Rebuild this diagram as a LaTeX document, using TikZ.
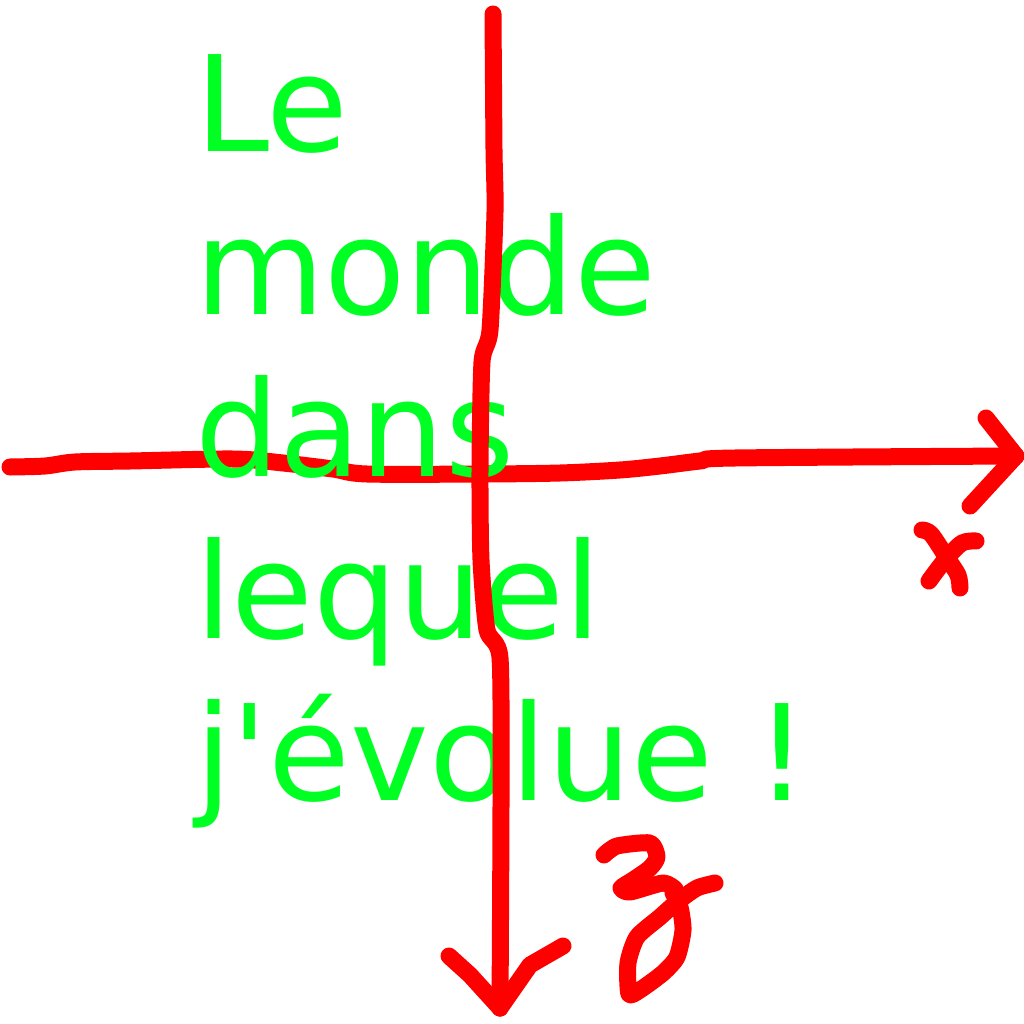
\documentclass[tikz,border=0pt]{standalone}
\usepackage{fontspec}
\setmainfont{DejaVu Sans}
\definecolor{txtgreen}{RGB}{0,255,34}
\definecolor{penred}{RGB}{255,0,0}
\begin{document}
\begin{tikzpicture}[x=1pt,y=-1pt,
  pen/.style={draw=penred,line width=17pt,line cap=round,line join=round},
  word/.style={anchor=base west,inner sep=0pt,outer sep=0pt,text=txtgreen,font=\fontsize{133}{162}\selectfont}]
\useasboundingbox (0,0) rectangle (1024,1024);
% horizontal axis
\coordinate (xstart) at (10,467);
\coordinate (xtip) at (1016,456);
\draw[pen] (xstart) plot[smooth,tension=0.5] coordinates {(10,467) (45,466) (75,462) (130,461) (233,459) (283,463) (333,469) (367,474) (483,474) (560,473) (620,470) (660,466) (700,461) (735,458) (1016,456)};
\draw[pen] (986,418) -- (xtip) -- (970,506);
% x label
\draw[pen] plot[smooth,tension=0.5] coordinates {(922,530) (931,534) (947,558) (958,575) (960,588)};
\draw[pen] plot[smooth,tension=0.5] coordinates {(976,541) (962,543) (945,560) (929,581)};
% text
\node[word] (l1) at (195,152) {Le};
\node[word] (l2) at (195,314) {monde};
\node[word] (l3) at (195,476) {dans};
\node[word] (l4) at (195,638) {lequel};
\node[word] (l5) at (195,800) {j\textquotesingle évolue !};
% vertical axis
\coordinate (ztop) at (493,14);
\coordinate (ztip) at (500,1008);
\draw[pen] (ztop) plot[smooth,tension=0.4] coordinates {(493,14) (494,150) (495,212) (490,330) (482,362) (480,470) (481,560) (487,630) (500,658) (501,800) (500,1008)};
\draw[pen] (449,956) -- (470,975) -- (ztip);
\draw[pen] (563,946) -- (530,965) -- (ztip);
% z label
\draw[pen] plot[smooth,tension=0.4] coordinates {(604,855) (617,846) (650,843) (657,857) (650,868) (633,880) (621,888) (630,892) (663,883) (675,889)};
\draw[pen] plot[smooth,tension=0.4] coordinates {(715,883) (697,888) (677,902) (660,917) (637,937) (628,963) (629,994) (640,990) (663,973) (677,957) (683,930) (680,907) (673,893)};
\end{tikzpicture}
\end{document}
